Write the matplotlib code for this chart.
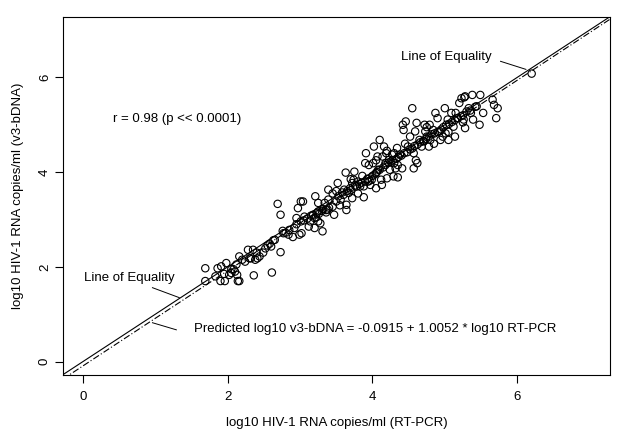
import matplotlib
matplotlib.use("Agg")
import matplotlib.pyplot as plt
import numpy as np

plt.rcParams['font.family'] = ['Liberation Sans', 'DejaVu Sans']

rtpcr = [1.69, 1.69, 1.86, 1.91, 1.98, 1.83, 1.90, 1.96, 2.02, 2.05, 2.08, 2.10, 2.14, 2.16, 2.13,
         2.16, 2.24, 2.28, 2.30, 2.32, 2.35, 2.36, 2.38, 2.41, 2.44, 2.49, 2.52, 2.58, 2.60, 2.63,
         2.61, 2.65, 2.69, 2.73, 2.73, 2.76, 2.77, 2.84, 2.90, 2.95, 2.97, 2.99, 3.01, 3.01, 3.02,
         3.04, 3.06, 3.12, 3.14, 3.20, 3.20, 3.21, 3.23, 3.25, 3.25, 3.28, 3.31, 3.34, 3.36, 3.39,
         3.39, 3.45, 3.47, 3.50, 3.52, 3.53, 3.56, 3.58, 3.61, 3.63, 3.64, 3.64, 3.67, 3.69, 3.72,
         3.72, 3.74, 3.75, 3.78, 3.80, 3.83, 3.86, 3.88, 3.88, 3.90, 3.91, 3.94, 3.97, 3.99, 4.01,
         4.02, 4.05, 4.05, 4.07, 4.08, 4.10, 4.12, 4.13, 4.14, 4.16, 4.18, 4.19, 4.20, 4.23, 4.24,
         4.27, 4.29, 4.30, 4.32, 4.34, 4.35, 4.38, 4.41, 4.42, 4.43, 4.46, 4.49, 4.52, 4.55, 4.57,
         4.57, 4.59, 4.61, 4.62, 4.65, 4.68, 4.71, 4.72, 4.73, 4.75, 4.78, 4.79, 4.80, 4.84, 4.87,
         4.90, 4.93, 4.94, 4.97, 5.00, 5.01, 5.04, 5.05, 5.09, 5.12, 5.14, 5.17, 5.20, 5.23, 5.26,
         5.28, 5.33, 5.36, 5.38, 5.39, 5.44, 5.48, 5.49, 5.53, 5.66, 5.68, 5.71, 5.73, 6.20,
         3.30, 3.32, 3.38, 3.40, 3.36, 3.60, 3.65, 3.70, 3.76, 3.82, 3.85, 3.90, 3.93, 3.96, 4.00,
         4.03, 4.06, 4.10, 4.15, 4.18, 4.22, 4.25, 4.28, 4.33, 4.36, 4.40, 4.44, 4.48, 4.52, 4.55,
         4.58, 4.62, 4.66, 4.70, 4.74, 4.78, 4.82, 4.86, 4.90, 4.95, 4.98, 5.02, 5.06, 5.10, 5.14,
         5.18, 5.22, 5.25, 5.30, 5.35, 5.42, 2.80, 2.85, 2.92, 3.05, 3.10, 3.15, 3.18, 3.22, 3.26,
         3.45, 3.55, 3.80, 3.95, 4.20, 4.35, 4.45, 4.60, 4.75, 4.85, 5.05, 5.15, 5.25, 4.30, 4.05,
         3.70, 3.50, 3.25, 2.95, 2.55, 2.40, 2.20, 2.05, 1.95, 2.12, 5.27, 5.28]
bdna = [1.97, 1.70, 1.97, 2.01, 2.08, 1.80, 1.70, 1.70, 1.83, 1.87, 1.95, 1.90, 1.70, 1.70, 1.83,
        2.22, 2.11, 2.36, 2.18, 2.18, 2.36, 1.82, 2.15, 2.18, 2.22, 2.30, 2.39, 2.49, 2.43, 2.56,
        1.88, 2.57, 3.33, 3.10, 2.31, 2.76, 2.71, 2.68, 2.63, 3.03, 3.24, 2.68, 3.38, 2.96, 2.71,
        3.38, 3.06, 2.85, 2.96, 3.03, 2.82, 3.49, 3.13, 3.17, 2.96, 2.92, 2.75, 3.35, 3.20, 3.63,
        3.42, 3.27, 3.10, 3.38, 3.77, 3.49, 3.42, 3.57, 3.63, 3.99, 3.31, 3.20, 3.56, 3.66, 3.45,
        3.77, 3.84, 4.01, 3.70, 3.80, 3.70, 3.92, 3.47, 3.70, 4.19, 4.40, 3.80, 3.73, 3.84, 4.19,
        4.54, 3.98, 3.66, 4.33, 4.05, 4.68, 3.84, 3.73, 4.33, 4.54, 4.19, 4.40, 3.87, 4.26, 4.05,
        4.37, 3.91, 4.19, 4.08, 4.51, 3.89, 4.37, 4.08, 5.00, 4.89, 5.07, 4.54, 4.75, 5.35, 4.40,
        4.08, 4.86, 5.04, 4.19, 4.68, 4.54, 4.65, 5.00, 4.86, 4.75, 4.54, 5.00, 4.68, 4.89, 5.25,
        5.14, 4.86, 4.68, 4.75, 5.35, 4.82, 5.11, 4.68, 5.25, 4.96, 4.75, 5.14, 5.46, 5.56, 5.11,
        4.93, 5.35, 5.25, 5.63, 5.11, 5.39, 5.00, 5.63, 5.25, 5.53, 5.42, 5.14, 5.35, 6.08,
        3.18, 3.22, 3.21, 3.25, 3.15, 3.52, 3.60, 3.62, 3.72, 3.75, 3.78, 3.80, 3.86, 3.82, 3.92,
        3.95, 4.00, 4.05, 4.10, 4.15, 4.20, 4.22, 4.25, 4.28, 4.32, 4.35, 4.40, 4.42, 4.48, 4.50,
        4.55, 4.58, 4.63, 4.66, 4.70, 4.75, 4.80, 4.82, 4.85, 4.90, 4.95, 5.00, 5.02, 5.06, 5.10,
        5.14, 5.18, 5.20, 5.28, 5.30, 5.38, 2.72, 2.78, 2.82, 2.98, 3.02, 3.08, 3.10, 3.05, 3.12,
        3.55, 3.30, 3.55, 4.15, 4.45, 4.15, 4.60, 4.25, 4.95, 4.60, 4.85, 5.25, 5.05, 4.40, 4.25,
        3.85, 3.60, 3.35, 2.90, 2.45, 2.30, 2.15, 1.95, 1.85, 2.05, 5.58, 5.60]

intercept = -0.0915
slope = 1.0052
xticks = [0, 2, 4, 6]
yticks = [0, 2, 4, 6]
lims = (-0.28, 7.28)

W, H = 621, 442
fig = plt.figure(figsize=(W / 100, H / 100), dpi=100)
ax = fig.add_axes([0.101, 0.152, 0.881, 0.810])

ax.scatter(rtpcr, bdna, s=28, facecolors='none', edgecolors='black', linewidths=0.8, zorder=3)
xx = np.array(lims)
ax.plot(xx, xx, color='black', lw=0.8)
ax.plot(xx, intercept + slope * xx, color='black', lw=0.8, linestyle=(0, (6, 2, 1, 2)))

fs = 9.5
ax.set_xlim(lims)
ax.set_ylim(lims)
ax.set_xticks(xticks)
ax.set_yticks(yticks)
ax.tick_params(direction='out', length=6, width=0.8, labelsize=fs)
ax.tick_params(axis='x', pad=6)
ax.tick_params(axis='y', pad=2.5)
for lbl in ax.get_yticklabels():
    lbl.set_rotation(90)
    lbl.set_va('center')
for s in ax.spines.values():
    s.set_linewidth(0.8)

fig.text(337 / W, 1 - 423 / H, 'log10 HIV-1 RNA copies/ml (RT-PCR)', fontsize=fs,
         ha='center', va='center')
fig.text(18 / W, 1 - 196 / H, 'log10 HIV-1 RNA copies/ml (v3-bDNA)', fontsize=fs,
         ha='center', va='center', rotation=90)

ax.text(0.42, 5.13, 'r = 0.98 (p << 0.0001)', fontsize=fs, va='center', ha='left')
ax.text(4.40, 6.44, 'Line of Equality', fontsize=fs, va='center', ha='left')
ax.plot([5.77, 6.12], [6.34, 6.17], color='black', lw=0.7)
ax.text(0.01, 1.77, 'Line of Equality', fontsize=fs, va='center', ha='left')
ax.plot([0.96, 1.33], [1.56, 1.35], color='black', lw=0.7)
ax.text(1.535, 0.69, 'Predicted log10 v3-bDNA = -0.0915 + 1.0052 * log10 RT-PCR',
        fontsize=fs, va='center', ha='left')
ax.plot([0.96, 1.29], [0.82, 0.67], color='black', lw=0.7)

fig.savefig('out.png', dpi=100)
